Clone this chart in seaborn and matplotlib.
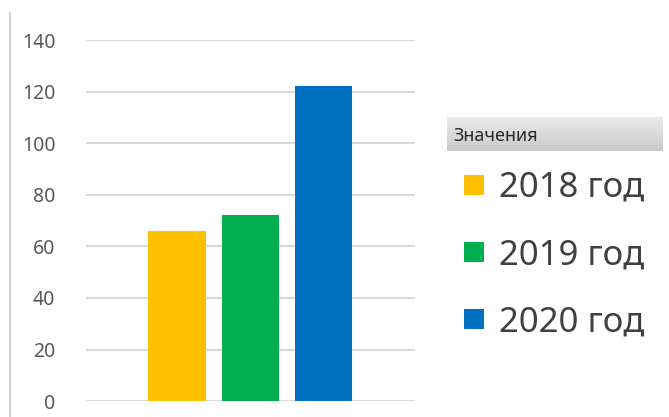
import numpy as np
import pandas as pd
import matplotlib
matplotlib.use("Agg")
import matplotlib.pyplot as plt
import seaborn as sns
from matplotlib.lines import Line2D

years = ["2018 год", "2019 год", "2020 год"]
values = [66, 72, 122]
colors = ["#FFC000", "#00B050", "#0070C0"]
yticks = [0, 20, 40, 60, 80, 100, 120, 140]
legend_title = "Значения"

df = pd.DataFrame({"Год": years, "Значение": values})

sns.set_style("white")
plt.rcParams["font.family"] = ["Noto Sans", "DejaVu Sans"]

fig = plt.figure(figsize=(6.69, 4.17), dpi=100)
ax = fig.add_axes([0.1286, 0.038, 0.4914, 0.866])

sns.barplot(data=df, x="Год", y="Значение", hue="Год", palette=colors,
            order=years, hue_order=years, width=0.78, legend=False, ax=ax,
            linewidth=0, saturation=1)

ax.set_xlim(-1.24, 3.24)
ax.set_ylim(0, 140)
ax.set_yticks(yticks)
ax.set_yticklabels([str(t) for t in yticks], fontsize=14, color="#595959")
ax.set_xticks([])
ax.set_xlabel("")
ax.set_ylabel("")
ax.tick_params(axis="y", length=0, pad=22)
ax.yaxis.grid(True, color="#d9d9d9", linewidth=1.5)
ax.set_axisbelow(True)
for s in ax.spines.values():
    s.set_visible(False)

# thin border line at the far left
fig.add_artist(Line2D([0.015, 0.015], [0.0, 0.97], color="#d0d0d0",
                      linewidth=1.5, transform=fig.transFigure))

# legend header with a gray gradient
hax = fig.add_axes([447 / 669, 1 - 151 / 417, 215 / 669, 34 / 417])
grad = np.linspace(0, 1, 64).reshape(-1, 1)
hax.imshow(grad, aspect="auto", cmap=matplotlib.colors.LinearSegmentedColormap.from_list(
    "g", ["#ececec", "#c9c9c9"]), extent=[0, 1, 0, 1])
hax.set_axis_off()
hax.text(0.03, 0.45, legend_title, fontsize=13, color="#262626",
         va="center", ha="left", transform=hax.transAxes)

handles = [Line2D([], [], marker="s", linestyle="none", markersize=15,
                  markerfacecolor=c, markeredgewidth=0) for c in colors]
fig.legend(handles, years, loc="upper left", bbox_to_anchor=(443 / 669, 1 - 157 / 417),
           frameon=False, fontsize=25, labelcolor="#404040", handletextpad=0.2,
           labelspacing=0.96, handlelength=1.0, borderaxespad=0)

fig.savefig("out.png", dpi=100)
